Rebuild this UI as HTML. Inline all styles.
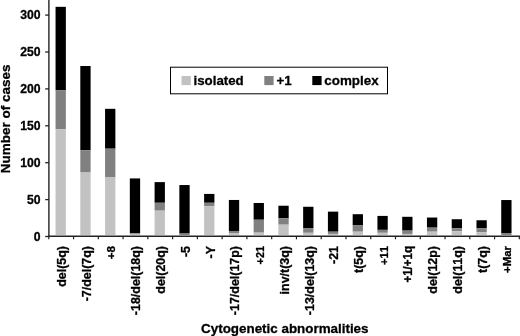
<!DOCTYPE html>
<html><head><meta charset="utf-8"><title>Cytogenetic abnormalities</title>
<style>
html,body{margin:0;padding:0;background:#fff;}
svg{display:block;}
text{font-family:"Liberation Sans",Arial,Helvetica,sans-serif;font-weight:bold;fill:#000;stroke:#000;stroke-width:0.3px;stroke-linejoin:round;font-kerning:none;font-feature-settings:"kern" 0;}
</style></head><body>
<svg width="520" height="336" viewBox="0 0 520 336">
<rect width="520" height="336" fill="#fff"/>

<rect x="55.55" y="6.83" width="10.3" height="83.54" fill="#000"/>
<rect x="55.55" y="90.38" width="10.3" height="38.82" fill="#808080"/>
<rect x="55.55" y="129.19" width="10.3" height="105.81" fill="#c2c2c2"/>
<rect x="80.31" y="66.02" width="10.3" height="84.21" fill="#000"/>
<rect x="80.31" y="150.23" width="10.3" height="22.29" fill="#808080"/>
<rect x="80.31" y="172.52" width="10.3" height="62.48" fill="#c2c2c2"/>
<rect x="105.07" y="108.83" width="10.3" height="39.85" fill="#000"/>
<rect x="105.07" y="148.68" width="10.3" height="28.78" fill="#808080"/>
<rect x="105.07" y="177.46" width="10.3" height="57.54" fill="#c2c2c2"/>
<rect x="129.83" y="178.42" width="10.3" height="55.13" fill="#000"/>
<rect x="129.83" y="233.55" width="10.3" height="1.45" fill="#c2c2c2"/>
<rect x="154.59" y="182.11" width="10.3" height="20.66" fill="#000"/>
<rect x="154.59" y="202.77" width="10.3" height="7.90" fill="#808080"/>
<rect x="154.59" y="210.67" width="10.3" height="24.33" fill="#c2c2c2"/>
<rect x="179.35" y="185.06" width="10.3" height="48.49" fill="#000"/>
<rect x="179.35" y="233.55" width="10.3" height="1.45" fill="#808080"/>
<rect x="179.35" y="235.00" width="10.3" height="0.00" fill="#c2c2c2"/>
<rect x="204.11" y="193.92" width="10.3" height="8.86" fill="#000"/>
<rect x="204.11" y="202.77" width="10.3" height="3.47" fill="#808080"/>
<rect x="204.11" y="206.24" width="10.3" height="28.76" fill="#c2c2c2"/>
<rect x="228.87" y="199.97" width="10.3" height="31.00" fill="#000"/>
<rect x="228.87" y="230.97" width="10.3" height="2.07" fill="#808080"/>
<rect x="228.87" y="233.03" width="10.3" height="1.97" fill="#c2c2c2"/>
<rect x="253.63" y="202.99" width="10.3" height="16.75" fill="#000"/>
<rect x="253.63" y="219.75" width="10.3" height="12.91" fill="#808080"/>
<rect x="253.63" y="232.66" width="10.3" height="2.34" fill="#c2c2c2"/>
<rect x="278.39" y="205.73" width="10.3" height="12.55" fill="#000"/>
<rect x="278.39" y="218.27" width="10.3" height="6.42" fill="#808080"/>
<rect x="278.39" y="224.69" width="10.3" height="10.31" fill="#c2c2c2"/>
<rect x="303.15" y="206.76" width="10.3" height="21.62" fill="#000"/>
<rect x="303.15" y="228.38" width="10.3" height="4.43" fill="#808080"/>
<rect x="303.15" y="232.81" width="10.3" height="2.19" fill="#c2c2c2"/>
<rect x="327.91" y="211.63" width="10.3" height="20.07" fill="#000"/>
<rect x="327.91" y="231.70" width="10.3" height="2.21" fill="#808080"/>
<rect x="327.91" y="233.92" width="10.3" height="1.08" fill="#c2c2c2"/>
<rect x="352.67" y="214.21" width="10.3" height="11.22" fill="#000"/>
<rect x="352.67" y="225.43" width="10.3" height="6.27" fill="#808080"/>
<rect x="352.67" y="231.70" width="10.3" height="3.30" fill="#c2c2c2"/>
<rect x="377.43" y="215.91" width="10.3" height="13.95" fill="#000"/>
<rect x="377.43" y="229.86" width="10.3" height="2.95" fill="#808080"/>
<rect x="377.43" y="232.81" width="10.3" height="2.19" fill="#c2c2c2"/>
<rect x="402.19" y="216.80" width="10.3" height="13.80" fill="#000"/>
<rect x="402.19" y="230.60" width="10.3" height="3.32" fill="#808080"/>
<rect x="402.19" y="233.92" width="10.3" height="1.08" fill="#c2c2c2"/>
<rect x="426.95" y="217.53" width="10.3" height="10.11" fill="#000"/>
<rect x="426.95" y="227.64" width="10.3" height="4.06" fill="#808080"/>
<rect x="426.95" y="231.70" width="10.3" height="3.30" fill="#c2c2c2"/>
<rect x="451.71" y="219.23" width="10.3" height="9.15" fill="#000"/>
<rect x="451.71" y="228.38" width="10.3" height="2.95" fill="#808080"/>
<rect x="451.71" y="231.33" width="10.3" height="3.67" fill="#c2c2c2"/>
<rect x="476.47" y="220.26" width="10.3" height="8.12" fill="#000"/>
<rect x="476.47" y="228.38" width="10.3" height="3.69" fill="#808080"/>
<rect x="476.47" y="232.07" width="10.3" height="2.93" fill="#c2c2c2"/>
<rect x="501.23" y="200.04" width="10.3" height="32.99" fill="#000"/>
<rect x="501.23" y="233.03" width="10.3" height="1.97" fill="#808080"/>
<rect x="501.23" y="235.00" width="10.3" height="0.00" fill="#c2c2c2"/>
<g stroke="#222" stroke-width="1.4" fill="none">
<line x1="48.9" y1="0" x2="48.9" y2="237"/>
<line x1="48.2" y1="236.3" x2="520" y2="236.3"/>
<line x1="45.2" y1="236.50" x2="49" y2="236.50" stroke-width="1.3"/>
<line x1="45.2" y1="199.60" x2="49" y2="199.60" stroke-width="1.3"/>
<line x1="45.2" y1="162.70" x2="49" y2="162.70" stroke-width="1.3"/>
<line x1="45.2" y1="125.80" x2="49" y2="125.80" stroke-width="1.3"/>
<line x1="45.2" y1="88.90" x2="49" y2="88.90" stroke-width="1.3"/>
<line x1="45.2" y1="52.00" x2="49" y2="52.00" stroke-width="1.3"/>
<line x1="45.2" y1="15.10" x2="49" y2="15.10" stroke-width="1.3"/>
<line x1="48.80" y1="236" x2="48.80" y2="239.3" stroke-width="1.2"/>
<line x1="73.56" y1="236" x2="73.56" y2="239.3" stroke-width="1.2"/>
<line x1="98.33" y1="236" x2="98.33" y2="239.3" stroke-width="1.2"/>
<line x1="123.09" y1="236" x2="123.09" y2="239.3" stroke-width="1.2"/>
<line x1="147.86" y1="236" x2="147.86" y2="239.3" stroke-width="1.2"/>
<line x1="172.62" y1="236" x2="172.62" y2="239.3" stroke-width="1.2"/>
<line x1="197.39" y1="236" x2="197.39" y2="239.3" stroke-width="1.2"/>
<line x1="222.16" y1="236" x2="222.16" y2="239.3" stroke-width="1.2"/>
<line x1="246.92" y1="236" x2="246.92" y2="239.3" stroke-width="1.2"/>
<line x1="271.69" y1="236" x2="271.69" y2="239.3" stroke-width="1.2"/>
<line x1="296.45" y1="236" x2="296.45" y2="239.3" stroke-width="1.2"/>
<line x1="321.22" y1="236" x2="321.22" y2="239.3" stroke-width="1.2"/>
<line x1="345.98" y1="236" x2="345.98" y2="239.3" stroke-width="1.2"/>
<line x1="370.75" y1="236" x2="370.75" y2="239.3" stroke-width="1.2"/>
<line x1="395.51" y1="236" x2="395.51" y2="239.3" stroke-width="1.2"/>
<line x1="420.28" y1="236" x2="420.28" y2="239.3" stroke-width="1.2"/>
<line x1="445.04" y1="236" x2="445.04" y2="239.3" stroke-width="1.2"/>
<line x1="469.81" y1="236" x2="469.81" y2="239.3" stroke-width="1.2"/>
<line x1="494.57" y1="236" x2="494.57" y2="239.3" stroke-width="1.2"/>
<line x1="519.34" y1="236" x2="519.34" y2="239.3" stroke-width="1.2"/>
</g>
<text x="40.5" y="203.97" font-size="12.2" text-anchor="end">50</text>
<text x="40.5" y="166.93" font-size="12.2" text-anchor="end">100</text>
<text x="40.5" y="129.90" font-size="12.2" text-anchor="end">150</text>
<text x="40.5" y="92.87" font-size="12.2" text-anchor="end">200</text>
<text x="40.5" y="55.83" font-size="12.2" text-anchor="end">250</text>
<text x="40.5" y="18.80" font-size="12.2" text-anchor="end">300</text>
<text x="40.5" y="241.00" font-size="12.2" text-anchor="end">0</text>
<text transform="translate(66.00 246.0) rotate(-90)" font-size="12.45" text-anchor="end">del(5q)</text>
<text transform="translate(90.76 246.0) rotate(-90)" font-size="12.45" text-anchor="end">-7/del(7q)</text>
<text transform="translate(115.22 246.0) rotate(-90)" font-size="11.6" text-anchor="end" textLength="13.3" lengthAdjust="spacingAndGlyphs">+8</text>
<text transform="translate(140.28 246.0) rotate(-90)" font-size="12.45" text-anchor="end">-18/del(18q)</text>
<text transform="translate(165.04 246.0) rotate(-90)" font-size="12.45" text-anchor="end">del(20q)</text>
<text transform="translate(189.80 246.0) rotate(-90)" font-size="12.45" text-anchor="end">-5</text>
<text transform="translate(214.56 246.0) rotate(-90)" font-size="12.45" text-anchor="end">-Y</text>
<text transform="translate(239.32 246.0) rotate(-90)" font-size="12.45" text-anchor="end">-17/del(17p)</text>
<text transform="translate(263.78 246.0) rotate(-90)" font-size="11.6" text-anchor="end" textLength="18.4" lengthAdjust="spacingAndGlyphs">+21</text>
<text transform="translate(288.84 246.0) rotate(-90)" font-size="12.45" text-anchor="end">inv/t(3q)</text>
<text transform="translate(313.60 246.0) rotate(-90)" font-size="12.45" text-anchor="end">-13/del(13q)</text>
<text transform="translate(338.36 246.0) rotate(-90)" font-size="12.45" text-anchor="end">-21</text>
<text transform="translate(363.12 246.0) rotate(-90)" font-size="12.45" text-anchor="end">t(5q)</text>
<text transform="translate(387.58 246.0) rotate(-90)" font-size="11.6" text-anchor="end" textLength="18.9" lengthAdjust="spacingAndGlyphs">+11</text>
<text transform="translate(412.34 246.0) rotate(-90)" font-size="12.2" text-anchor="end" textLength="36.6" lengthAdjust="spacingAndGlyphs">+1/+1q</text>
<text transform="translate(437.40 246.0) rotate(-90)" font-size="12.45" text-anchor="end">del(12p)</text>
<text transform="translate(462.16 246.0) rotate(-90)" font-size="12.45" text-anchor="end">del(11q)</text>
<text transform="translate(486.92 246.0) rotate(-90)" font-size="12.45" text-anchor="end">t(7q)</text>
<text transform="translate(511.38 246.0) rotate(-90)" font-size="11.6" text-anchor="end" textLength="27.0" lengthAdjust="spacingAndGlyphs">+Mar</text>
<text transform="translate(10.4 173.3) rotate(-90)" font-size="13.5">Number of cases</text>
<text x="201.1" y="332.8" font-size="13.4">Cytogenetic abnormalities</text>
<rect x="170.5" y="67.2" width="217" height="26.6" fill="#fff" stroke="#000" stroke-width="1"/>
<rect x="181.5" y="76" width="9.3" height="9.1" fill="#c2c2c2"/>
<text x="193.5" y="84.6" font-size="13.3">isolated</text>
<rect x="264.3" y="76" width="9.3" height="9.1" fill="#808080"/>
<text x="276.5" y="84.6" font-size="13.3">+1</text>
<rect x="312.3" y="76" width="9.3" height="9.1" fill="#000"/>
<text x="324.3" y="84.6" font-size="13.4">complex</text>
</svg></body></html>
